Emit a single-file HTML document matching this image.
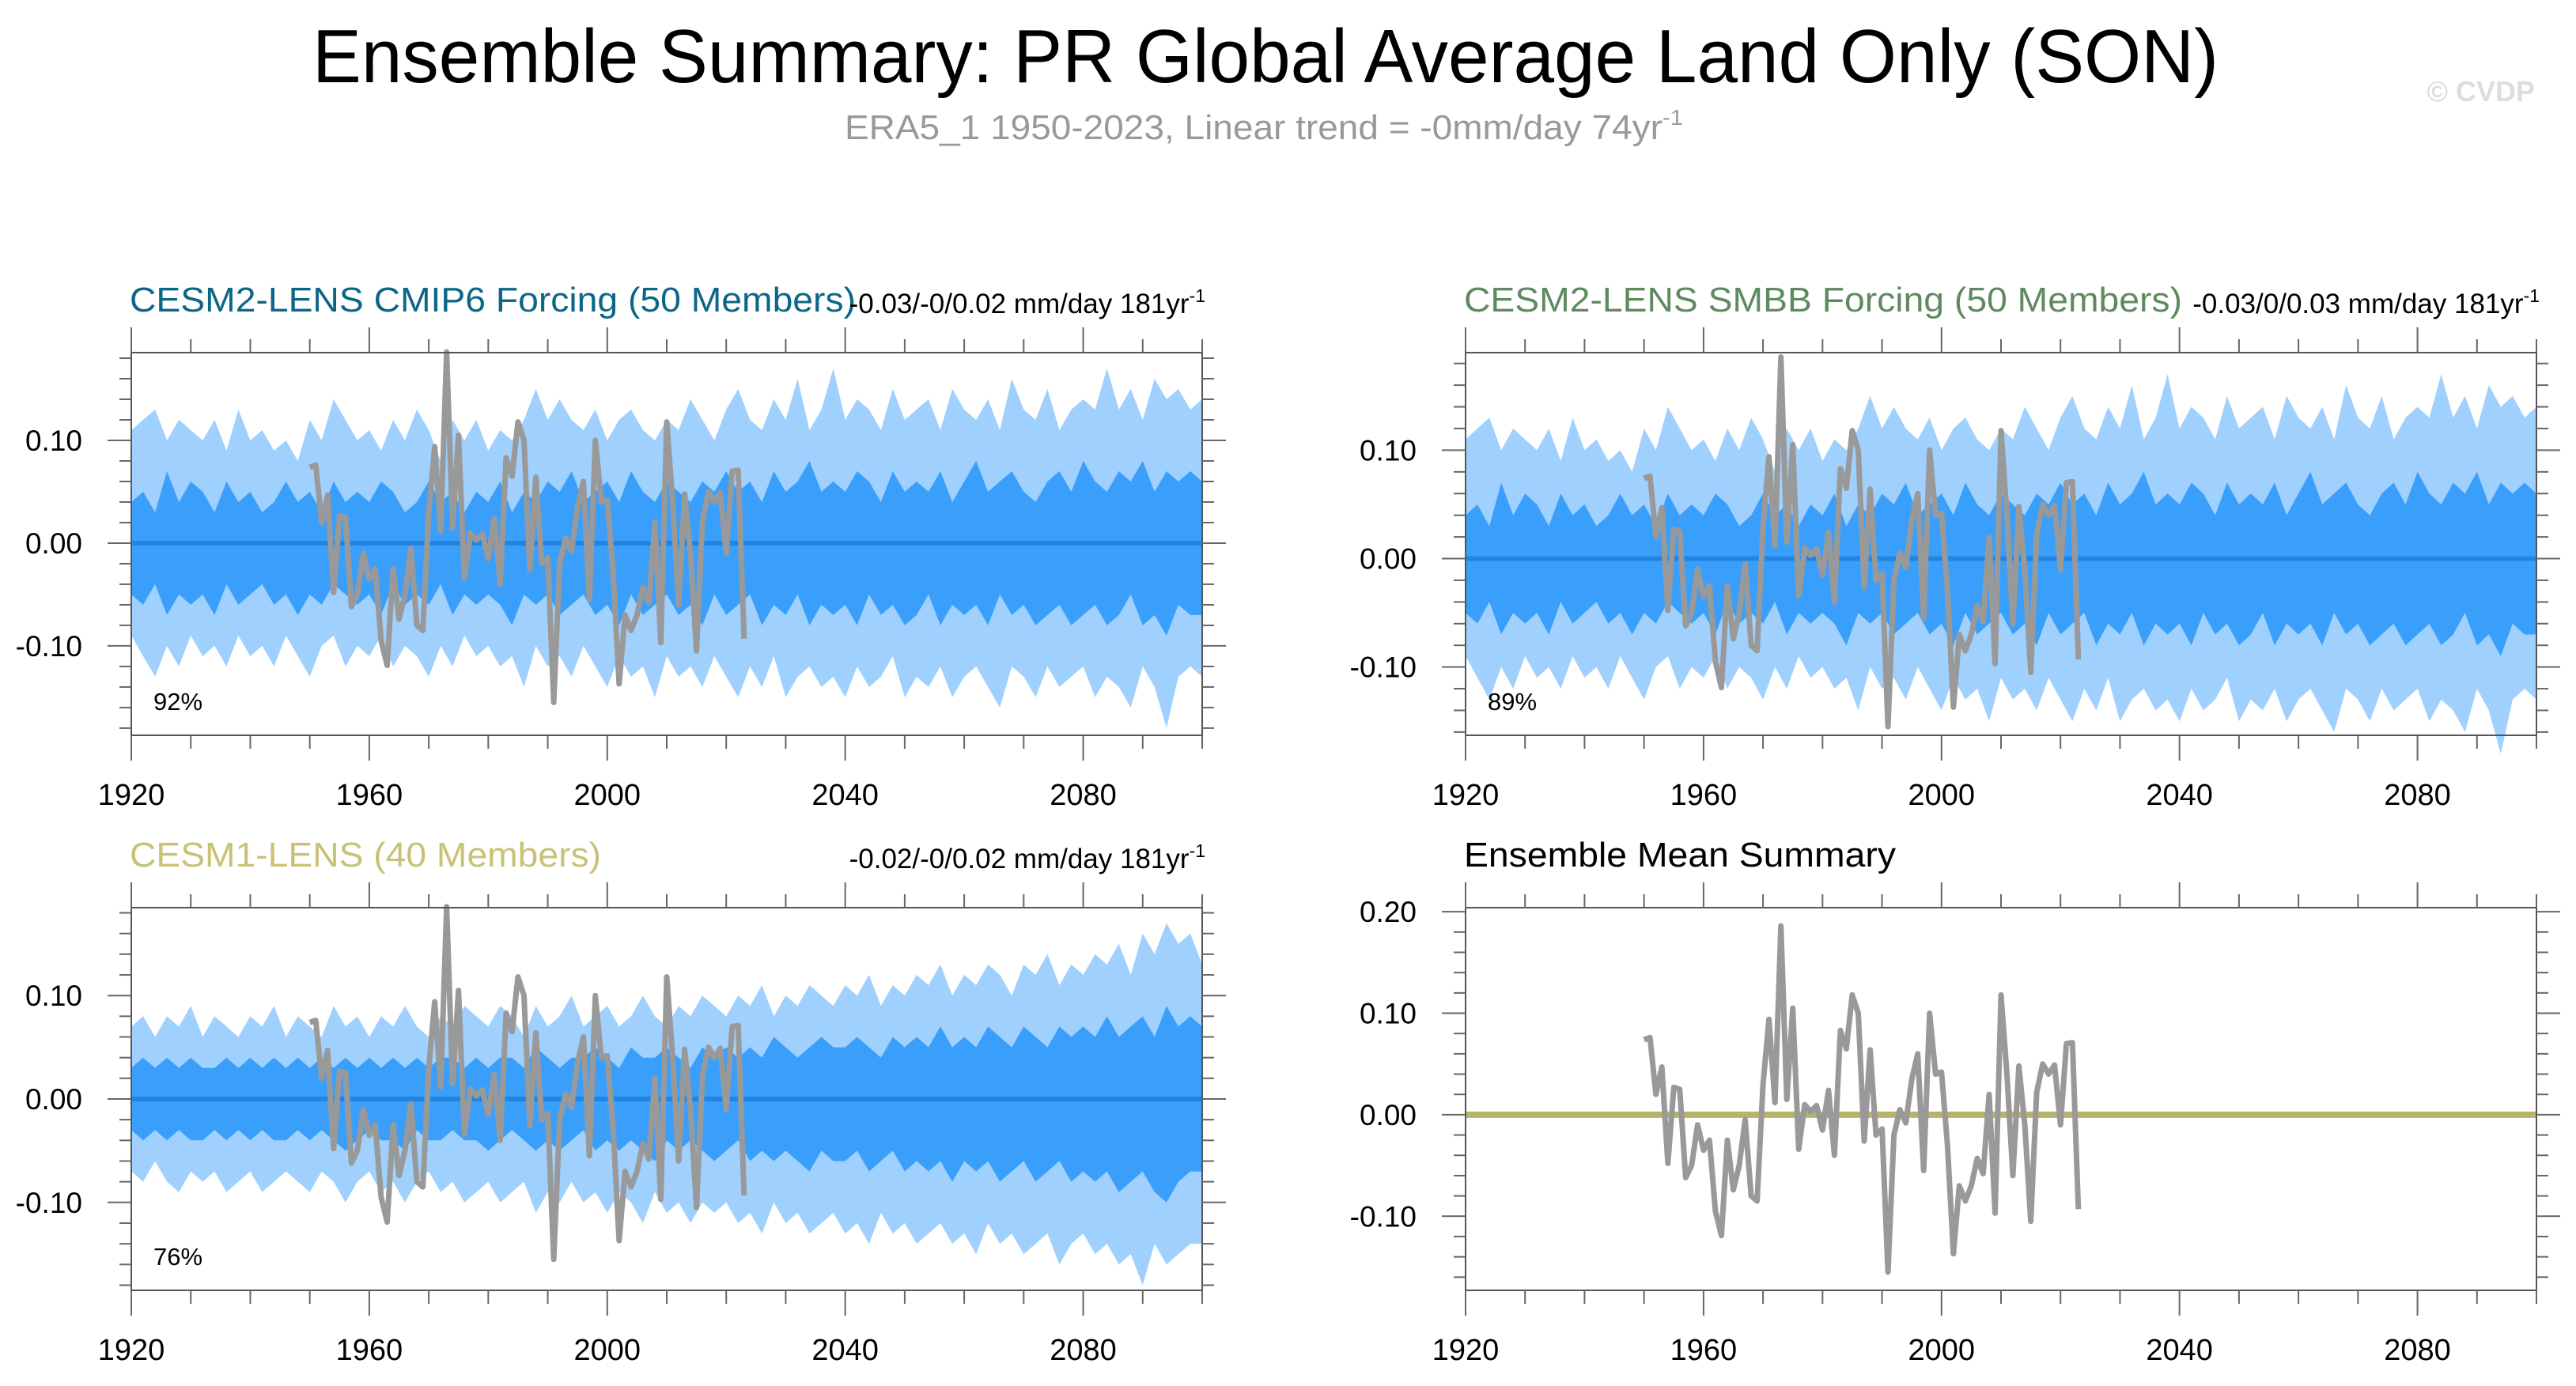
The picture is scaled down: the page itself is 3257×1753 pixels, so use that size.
<!DOCTYPE html>
<html><head><meta charset="utf-8"><style>
html,body{margin:0;padding:0;background:#fff;}
svg{display:block;font-family:"Liberation Sans",sans-serif;}
</style></head><body>
<svg id="chart" width="3257" height="1753" viewBox="0 0 3257 1753" xmlns="http://www.w3.org/2000/svg">
<text x="1600" y="104" font-size="96" text-anchor="middle" textLength="2410" lengthAdjust="spacingAndGlyphs" fill="#000">Ensemble Summary: PR Global Average Land Only (SON)</text>
<text x="1068" y="176" font-size="44" textLength="1060" lengthAdjust="spacingAndGlyphs" fill="#999">ERA5_1 1950-2023, Linear trend = -0mm/day 74yr<tspan dy="-18" font-size="28">-1</tspan></text>
<text x="3205" y="128" font-size="36" font-weight="bold" text-anchor="end" fill="#ddd">© CVDP</text>
<g id="panels"></g>
</svg>
<script>
// ERA5 observed, 1950-2023
const obsStart = 1950;
const obsValues = [0.074,0.076,0.02,0.047,-0.048,0.027,0.025,-0.062,-0.05,-0.01,
-0.035,-0.025,-0.095,-0.119,-0.025,-0.074,-0.05,-0.005,-0.08,-0.085,
0.03,0.094,0.012,0.186,0.015,0.105,-0.034,0.01,0.003,0.009,
-0.015,0.024,-0.04,0.083,0.065,0.118,0.1,-0.026,0.064,-0.02,
-0.014,-0.155,-0.02,0.005,-0.008,0.035,0.06,-0.055,0.1,0.04,
0.042,-0.03,-0.137,-0.07,-0.085,-0.07,-0.043,-0.058,0.02,-0.097,
0.118,0.04,-0.06,0.048,-0.01,-0.105,0.022,0.05,0.04,0.049,
-0.01,0.07,0.071,-0.093];
const bandStart = 1920, bandStep = 2;
const outerUpperA = [0.11,0.12,0.13,0.10,0.12,0.11,0.10,0.12,0.09,0.13,
0.10,0.11,0.09,0.10,0.08,0.12,0.10,0.14,0.12,0.10,
0.11,0.09,0.12,0.10,0.13,0.11,0.08,0.12,0.10,0.12,
0.09,0.11,0.10,0.12,0.15,0.12,0.14,0.12,0.11,0.13,
0.10,0.12,0.13,0.11,0.10,0.12,0.11,0.14,0.12,0.10,
0.13,0.15,0.12,0.11,0.14,0.12,0.16,0.11,0.13,0.17,
0.12,0.14,0.13,0.11,0.15,0.12,0.13,0.14,0.11,0.15,
0.13,0.12,0.14,0.11,0.16,0.13,0.12,0.15,0.11,0.13,
0.14,0.13,0.17,0.13,0.15,0.12,0.16,0.14,0.15,0.13,0.14];
const innerUpperA = [0.04,0.05,0.03,0.07,0.04,0.06,0.05,0.03,0.06,0.04,
0.05,0.03,0.04,0.06,0.04,0.05,0.03,0.06,0.04,0.05,
0.04,0.06,0.05,0.03,0.04,0.06,0.04,0.05,0.03,0.05,
0.04,0.06,0.03,0.05,0.04,0.06,0.05,0.07,0.04,0.05,
0.06,0.04,0.07,0.05,0.04,0.06,0.05,0.04,0.06,0.05,
0.07,0.05,0.06,0.04,0.07,0.05,0.06,0.08,0.05,0.06,
0.05,0.07,0.06,0.04,0.07,0.05,0.06,0.05,0.07,0.04,
0.06,0.08,0.05,0.06,0.07,0.05,0.04,0.06,0.07,0.05,
0.08,0.06,0.05,0.07,0.06,0.08,0.05,0.07,0.06,0.07,0.06];
const innerLowerA = [-0.05,-0.06,-0.04,-0.07,-0.05,-0.06,-0.05,-0.07,-0.04,-0.06,
-0.05,-0.04,-0.06,-0.05,-0.07,-0.05,-0.06,-0.04,-0.05,-0.06,
-0.05,-0.07,-0.04,-0.06,-0.05,-0.06,-0.04,-0.07,-0.05,-0.06,
-0.05,-0.06,-0.08,-0.05,-0.06,-0.05,-0.07,-0.06,-0.05,-0.07,
-0.06,-0.08,-0.05,-0.07,-0.06,-0.05,-0.07,-0.06,-0.08,-0.05,
-0.07,-0.06,-0.05,-0.08,-0.06,-0.07,-0.05,-0.08,-0.06,-0.07,
-0.06,-0.08,-0.05,-0.07,-0.06,-0.08,-0.07,-0.05,-0.08,-0.06,
-0.07,-0.06,-0.08,-0.05,-0.07,-0.06,-0.08,-0.07,-0.06,-0.08,
-0.07,-0.06,-0.08,-0.07,-0.05,-0.08,-0.07,-0.09,-0.06,-0.07,-0.07];
const outerLowerA = [-0.09,-0.11,-0.13,-0.10,-0.12,-0.09,-0.11,-0.10,-0.12,-0.09,
-0.11,-0.10,-0.12,-0.09,-0.11,-0.13,-0.10,-0.09,-0.12,-0.10,
-0.11,-0.09,-0.12,-0.10,-0.11,-0.13,-0.10,-0.12,-0.09,-0.11,
-0.10,-0.12,-0.11,-0.14,-0.10,-0.12,-0.11,-0.13,-0.10,-0.12,
-0.14,-0.11,-0.13,-0.12,-0.15,-0.11,-0.13,-0.12,-0.14,-0.11,
-0.13,-0.15,-0.12,-0.14,-0.11,-0.15,-0.13,-0.12,-0.14,-0.13,
-0.15,-0.12,-0.14,-0.13,-0.11,-0.15,-0.13,-0.14,-0.12,-0.15,
-0.13,-0.12,-0.14,-0.16,-0.12,-0.13,-0.15,-0.12,-0.14,-0.13,
-0.12,-0.15,-0.13,-0.14,-0.16,-0.12,-0.14,-0.18,-0.13,-0.12,-0.13];
const outerUpperC = [0.07,0.08,0.06,0.08,0.07,0.09,0.06,0.08,0.07,0.06,
0.08,0.07,0.09,0.06,0.08,0.07,0.06,0.09,0.07,0.08,
0.06,0.08,0.07,0.09,0.07,0.06,0.08,0.07,0.09,0.08,
0.07,0.09,0.08,0.06,0.09,0.07,0.08,0.10,0.07,0.08,
0.09,0.07,0.08,0.10,0.08,0.07,0.09,0.08,0.10,0.09,
0.08,0.10,0.09,0.11,0.08,0.10,0.09,0.11,0.10,0.09,
0.11,0.10,0.12,0.09,0.11,0.10,0.12,0.11,0.13,0.10,
0.12,0.11,0.13,0.12,0.10,0.13,0.12,0.14,0.11,0.13,
0.12,0.14,0.13,0.15,0.12,0.16,0.14,0.17,0.15,0.16,0.13];
const innerUpperC = [0.03,0.04,0.03,0.04,0.03,0.04,0.03,0.03,0.04,0.03,
0.04,0.03,0.04,0.03,0.04,0.03,0.04,0.03,0.04,0.03,
0.04,0.03,0.04,0.03,0.04,0.03,0.04,0.04,0.03,0.04,
0.03,0.04,0.04,0.03,0.05,0.04,0.03,0.04,0.04,0.05,
0.04,0.03,0.05,0.04,0.04,0.05,0.04,0.03,0.05,0.04,
0.05,0.04,0.05,0.04,0.06,0.05,0.04,0.05,0.06,0.05,
0.05,0.06,0.05,0.04,0.06,0.05,0.06,0.05,0.07,0.05,
0.06,0.05,0.07,0.06,0.05,0.07,0.06,0.05,0.07,0.06,
0.07,0.06,0.08,0.06,0.07,0.08,0.06,0.09,0.07,0.08,0.07];
const innerLowerC = [-0.03,-0.04,-0.03,-0.04,-0.03,-0.04,-0.04,-0.03,-0.04,-0.03,
-0.04,-0.03,-0.04,-0.04,-0.03,-0.04,-0.03,-0.04,-0.05,-0.04,
-0.03,-0.04,-0.04,-0.05,-0.03,-0.04,-0.04,-0.03,-0.04,-0.04,
-0.05,-0.04,-0.03,-0.04,-0.05,-0.04,-0.05,-0.04,-0.03,-0.05,
-0.04,-0.05,-0.04,-0.05,-0.06,-0.04,-0.05,-0.04,-0.05,-0.06,
-0.05,-0.04,-0.06,-0.05,-0.06,-0.05,-0.06,-0.07,-0.05,-0.06,
-0.06,-0.05,-0.07,-0.06,-0.05,-0.07,-0.06,-0.07,-0.06,-0.08,
-0.06,-0.07,-0.06,-0.08,-0.07,-0.06,-0.08,-0.07,-0.06,-0.08,
-0.07,-0.08,-0.07,-0.09,-0.08,-0.07,-0.09,-0.10,-0.08,-0.07,-0.07];
const outerLowerC = [-0.07,-0.08,-0.06,-0.08,-0.09,-0.07,-0.08,-0.07,-0.09,-0.08,
-0.07,-0.09,-0.08,-0.07,-0.08,-0.09,-0.07,-0.08,-0.10,-0.08,
-0.07,-0.09,-0.08,-0.10,-0.08,-0.07,-0.09,-0.08,-0.10,-0.09,
-0.08,-0.10,-0.09,-0.08,-0.11,-0.09,-0.10,-0.08,-0.10,-0.09,
-0.11,-0.09,-0.10,-0.12,-0.09,-0.11,-0.10,-0.12,-0.10,-0.11,
-0.10,-0.12,-0.11,-0.13,-0.10,-0.12,-0.11,-0.13,-0.12,-0.11,
-0.13,-0.12,-0.14,-0.11,-0.13,-0.12,-0.14,-0.13,-0.12,-0.14,
-0.13,-0.15,-0.12,-0.14,-0.13,-0.15,-0.14,-0.13,-0.16,-0.14,
-0.13,-0.15,-0.14,-0.16,-0.15,-0.18,-0.14,-0.16,-0.15,-0.14,-0.14];
const xTickLabels = ["1920","1960","2000","2040","2080"];

const NS="http://www.w3.org/2000/svg";
const root=document.getElementById('panels');
function mk(tag,attrs,parent){const e=document.createElementNS(NS,tag);for(const k in attrs)e.setAttribute(k,attrs[k]);(parent||root).appendChild(e);return e;}

const panels=[
 {id:'cmip6',x0:166,x1:1520,y0:446,y1:930,vmax:0.1854,vmin:-0.187,yt:[-0.1,0,0.1],title:'CESM2-LENS CMIP6 Forcing (50 Members)',tcol:'#0b6688',tlen:918,stat:'-0.03/-0/0.02 mm/day 181yr',pct:'92%',bands:[outerUpperA,innerUpperA,innerLowerA,outerLowerA]},
 {id:'smbb',x0:1853,x1:3207,y0:446,y1:930,vmax:0.19,vmin:-0.163,yt:[-0.1,0,0.1],title:'CESM2-LENS SMBB Forcing (50 Members)',tcol:'#5f8a60',tlen:908,stat:'-0.03/0/0.03 mm/day 181yr',pct:'89%',bands:[outerUpperA,innerUpperA,innerLowerA,outerLowerA]},
 {id:'cesm1',x0:166,x1:1520,y0:1148,y1:1632,vmax:0.185,vmin:-0.185,yt:[-0.1,0,0.1],title:'CESM1-LENS (40 Members)',tcol:'#c9c173',tlen:596,stat:'-0.02/-0/0.02 mm/day 181yr',pct:'76%',bands:[outerUpperC,innerUpperC,innerLowerC,outerLowerC]},
 {id:'mean',x0:1853,x1:3207,y0:1148,y1:1632,vmax:0.204,vmin:-0.173,yt:[-0.1,0,0.1,0.2],title:'Ensemble Mean Summary',tcol:'#000',tlen:546,stat:null,pct:null,bands:null}
];

panels.forEach(p=>{
 const g=mk('g',{});
 
 
 const X=yr=>p.x0+(yr-1920)/180*(p.x1-p.x0);
 const Y=v=>p.y0+(p.vmax-v)/(p.vmax-p.vmin)*(p.y1-p.y0);
 if(p.bands){
  const band=(up,lo,col,name)=>{
   let pts=[];
   up.forEach((v,i)=>pts.push(X(bandStart+i*bandStep).toFixed(1)+','+Y(v).toFixed(1)));
   for(let i=lo.length-1;i>=0;i--)pts.push(X(bandStart+i*bandStep).toFixed(1)+','+Y(lo[i]).toFixed(1));
   const e=mk('polygon',{points:pts.join(' '),fill:col},g);
   
   
  };
  band(p.bands[0],p.bands[3],'#a0d0fd','outer-spread-band');
  band(p.bands[1],p.bands[2],'#3a9ffb','inner-spread-band');
  const m=mk('line',{x1:X(1920),x2:X(2100),y1:Y(0),y2:Y(0),stroke:'#2184e0','stroke-width':6},g);
  
  
 } else {
  const m=mk('line',{x1:X(1920),x2:X(2100),y1:Y(0),y2:Y(0),stroke:'#b7b36a','stroke-width':8},g);
  
  
 }
 const op=obsValues.map((v,i)=>X(obsStart+i).toFixed(1)+','+Y(v).toFixed(1)).join(' ');
 const o=mk('polyline',{points:op,fill:'none',stroke:'#999','stroke-width':7,'stroke-linejoin':'round'},g);
 
 
 const b=mk('rect',{x:p.x0,y:p.y0,width:p.x1-p.x0,height:p.y1-p.y0,fill:'none',stroke:'#555','stroke-width':2},g);
 
 
 for(let yr=1920;yr<=2100;yr+=10){
  const maj=(yr-1920)%40===0, L=maj?30:15, x=X(yr);
  mk('line',{x1:x,x2:x,y1:p.y0,y2:p.y0-L-2,stroke:'#666','stroke-width':2},g);
  mk('line',{x1:x,x2:x,y1:p.y1,y2:p.y1+L+2,stroke:'#666','stroke-width':2},g);
 }
 xTickLabels.forEach(s=>{
  const t=mk('text',{x:X(+s),y:p.y1+88,'font-size':38,'text-anchor':'middle',fill:'#000'},g);
  t.textContent=s;
  
  
 });
 for(let k=-20;k<=20;k++){
  const v=k*0.02; if(v<p.vmin-1e-9||v>p.vmax+1e-9)continue;
  const maj=k%5===0, L=maj?30:15, y=Y(v);
  mk('line',{x1:p.x0,x2:p.x0-L,y1:y,y2:y,stroke:'#666','stroke-width':2},g);
  mk('line',{x1:p.x1,x2:p.x1+L,y1:y,y2:y,stroke:'#666','stroke-width':2},g);
 }
 p.yt.forEach(v=>{
  const t=mk('text',{x:p.x0-62,y:Y(v)+13,'font-size':37,'text-anchor':'end',fill:'#000'},g);
  t.textContent=v.toFixed(2);
  
  
 });
 const tt=mk('text',{x:p.x0-2,y:p.y0-52,'font-size':44,fill:p.tcol,textLength:p.tlen,lengthAdjust:'spacingAndGlyphs'},g);
 tt.textContent=p.title;
 
 
 if(p.stat){
  const st=mk('text',{x:p.x1+4,y:p.y0-50,'font-size':35,'text-anchor':'end',fill:'#000'},g);
  st.textContent=p.stat;
  const sp=mk('tspan',{dy:-14,'font-size':23},st); sp.textContent='-1';
  
  
 }
 if(p.pct){
  const pc=mk('text',{x:p.x0+28,y:p.y1-32,'font-size':31,fill:'#000'},g);
  pc.textContent=p.pct;
  
  
 }
});
</script>
</body></html>
